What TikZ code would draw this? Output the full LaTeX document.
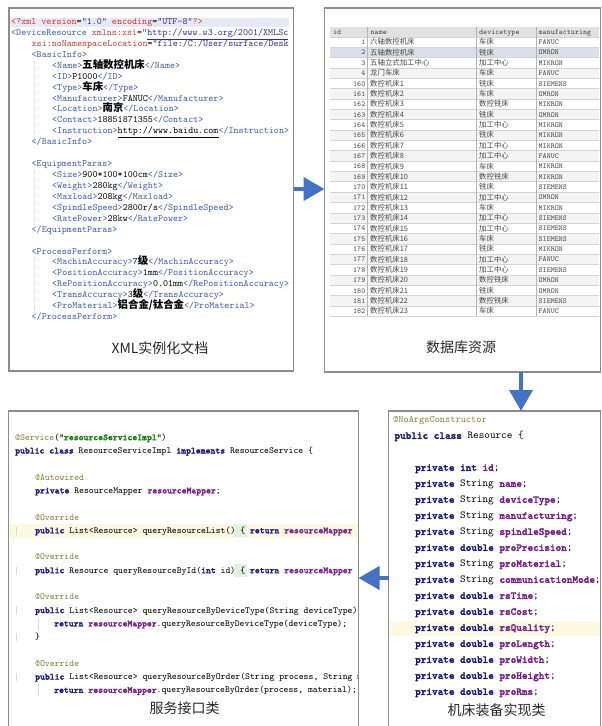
\documentclass[tikz,border=0pt]{standalone}
\usepackage{fontspec}
\usetikzlibrary{arrows.meta}
\newfontfamily\cjk{Noto Sans CJK SC}
\newfontface\ttb{lmmonolt10-bold.otf}[FakeBold=2.2]
\definecolor{tagc}{RGB}{55,85,185}
\definecolor{attc}{RGB}{205,55,45}
\definecolor{valc}{RGB}{45,45,150}
\definecolor{kwc}{RGB}{25,25,130}
\definecolor{fdc}{RGB}{120,30,140}
\definecolor{anc}{RGB}{130,130,50}
\definecolor{stc}{RGB}{20,125,20}
\definecolor{arrc}{RGB}{68,114,196}
\definecolor{framec}{RGB}{140,140,140}
\definecolor{hlx}{RGB}{232,232,246}
\definecolor{hly}{RGB}{253,248,226}
\definecolor{hlg}{RGB}{224,240,226}
\definecolor{dbhead}{RGB}{226,226,226}
\definecolor{dbsel}{RGB}{218,223,236}
\definecolor{dbalt}{RGB}{244,244,244}
\definecolor{dbline}{RGB}{212,212,212}
\definecolor{dbtxt}{RGB}{70,70,70}
\definecolor{captc}{RGB}{40,40,40}
\definecolor{guidec}{RGB}{215,215,215}
\newcommand\xT[1]{\textcolor{tagc}{#1}}
\newcommand\xA[1]{\textcolor{attc}{#1}}
\newcommand\xV[1]{\textcolor{valc}{#1}}
\newcommand\xC[1]{{\fontsize{10.4}{11}\selectfont\cjk\bfseries #1}}
\newcommand\cKw[1]{{\color{kwc}\ttb #1}}
\newcommand\cFd[1]{{\color{fdc}\ttb #1}}
\newcommand\cAn[1]{{\color{anc}#1}}
\newcommand\cSt[1]{{\color{stc}\ttb #1}}
\newcommand\hlbrace{\makebox[0pt][l]{\hspace{-6pt}\textcolor{hlg}{\rule[-3.5pt]{12.5pt}{13pt}}}\{}
\newcommand\xmlline[4]{\node[xmlt] (#1) at (#2,{24.5+10.93*#3}) {#4};}
\newcommand\svcline[4]{\node[svct] (#1) at (#2,{440.2+13.3*#3}) {#4};}
\newcommand\resline[4]{\node[rest] (#1) at (#2,{422.9+16*#3}) {#4};}
\tikzset{
  panel/.style={draw=framec, line width=1.1pt, inner sep=0pt, outer sep=0pt, anchor=north west},
  xmlt/.style={anchor=base west, inner sep=0pt, font=\fontsize{9.6}{11}\ttfamily},
  svct/.style={anchor=base west, inner sep=0pt, font=\fontsize{9.3}{11}\ttfamily},
  rest/.style={anchor=base west, inner sep=0pt, font=\fontsize{10.7}{12}\ttfamily},
  dbt/.style={anchor=base west, inner sep=0pt, font=\fontsize{7.6}{8}\ttfamily, text=dbtxt},
  dbz/.style={anchor=base west, inner sep=0pt, font=\fontsize{7.4}{8}\cjk, text=dbtxt},
  capt/.style={inner sep=0pt, font=\fontsize{14}{16}\cjk, text=captc},
  arr/.style={draw=arrc, line width=4pt, -{Triangle[length=21pt,width=23pt]}},
  guide/.style={draw=guidec, line width=0.6pt, dash pattern=on 1pt off 1pt},
  gutter/.style={draw=guidec, line width=0.8pt}
}
\begin{document}
\begin{tikzpicture}[x=1pt,y=-1pt]
\useasboundingbox (0,0) rectangle (602,726);
% panels
\node[panel, minimum width=284.5pt, minimum height=363pt] (xml) at (9,8) {};
\node[panel, minimum width=276pt, minimum height=364pt] (db) at (324.5,8) {};
\node[panel, minimum width=350pt, minimum height=330pt] (svc) at (8.5,411) {};
\node[panel, minimum width=212pt, minimum height=330pt] (res) at (388.5,411) {};

% ---------- XML panel ----------
\fill[hlx] (10,17.5) rectangle (289,27);
\draw[guide] (34.5,61) -- (34.5,139);
\draw[guide] (34.5,170) -- (34.5,226);
\draw[guide] (34.5,256) -- (34.5,312);
\xmlline{x0}{11}{0}{\xA{<?xml} \xA{version}=\xV{"1.0"} \xA{encoding}=\xV{"UTF-8"}\xA{?>}}
\xmlline{x1}{11}{1}{\xT{<DeviceResource} \xA{xmlns:xsi}=\xV{"\underline{http://www.w3.org/2001/XMLSc}}}
\xmlline{x2}{31.5}{2}{\xA{xsi:noNamespaceLocation}=\xV{"file:/C:/User/surface/Desk}}
\xmlline{x3}{31.5}{3}{\xT{<BasicInfo>}}
\xmlline{x4}{52}{4}{\xT{<Name>}\xC{五轴数控机床}\xT{</Name>}}
\xmlline{x5}{52}{5}{\xT{<ID>}P1000\xT{</ID>}}
\xmlline{x6}{52}{6}{\xT{<Type>}\xC{车床}\xT{</Type>}}
\xmlline{x7}{52}{7}{\xT{<Manufacturer>}FANUC\xT{</Manufacturer>}}
\xmlline{x8}{52}{8}{\xT{<Location>}\xC{南京}\xT{</Location>}}
\xmlline{x9}{52}{9}{\xT{<Contact>}18851871355\xT{</Contact>}}
\xmlline{x10}{52}{10}{\xT{<Instruction>}\underline{http://www.baidu.com}\xT{</Instruction>}}
\xmlline{x11}{31.5}{11}{\xT{</BasicInfo>}}
\xmlline{x13}{31.5}{13}{\xT{<EquipmentParas>}}
\xmlline{x14}{52}{14}{\xT{<Size>}900*100*100cm\xT{</Size>}}
\xmlline{x15}{52}{15}{\xT{<Weight>}280kg\xT{</Weight>}}
\xmlline{x16}{52}{16}{\xT{<Maxload>}208kg\xT{</Maxload>}}
\xmlline{x17}{52}{17}{\xT{<SpindleSpeed>}2800r/s\xT{</SpindleSpeed>}}
\xmlline{x18}{52}{18}{\xT{<RatePower>}28kw\xT{</RatePower>}}
\xmlline{x19}{31.5}{19}{\xT{</EquipmentParas>}}
\xmlline{x21}{31.5}{21}{\xT{<ProcessPerform>}}
\xmlline{x22}{52}{22}{\xT{<MachinAccuracy>}7\xC{级}\xT{</MachinAccuracy>}}
\xmlline{x23}{52}{23}{\xT{<PositionAccuracy>}1mm\xT{</PositionAccuracy>}}
\xmlline{x24}{52}{24}{\xT{<RePositionAccuracy>}0.01mm\xT{</RePositionAccuracy>}}
\xmlline{x25}{52}{25}{\xT{<TransAccuracy>}3\xC{级}\xT{</TransAccuracy>}}
\xmlline{x26}{52}{26}{\xT{<ProMaterial>}\xC{铝合金/钛合金}\xT{</ProMaterial>}}
\xmlline{x27}{31.5}{27}{\xT{</ProcessPerform>}}
\node[capt] (xcap) at (160,348) {XML实例化文档};

% ---------- DB panel ----------
\fill[dbhead] (330,26.5) rectangle (599,36.8);
\foreach \dk in {3,5,...,25} {\fill[dbalt] (330,{36.83+10.35*\dk}) rectangle (599,{47.18+10.35*\dk});}
\fill[dbsel] (330,{36.83+10.35}) rectangle (599,{47.18+10.35});
\foreach \dk in {0,...,27} {\draw[dbline, line width=0.5pt] (330,{36.83+10.35*\dk}) -- (599,{36.83+10.35*\dk});}
\foreach \xx in {367.7,476.3,536} {\draw[draw=dbline!85!black, line width=0.6pt] (\xx,26.5) -- (\xx,316.3);}
\node[dbt] (hid) at (333,34) {id};
\node[dbt] (hnm) at (370.5,34) {name};
\node[dbt] (hty) at (479,34) {devicetype};
\node[dbt] (hmf) at (538.5,34) {manufacturing};
\foreach \dk/\did/\dnm/\dty/\dmf in {
 0/1/六轴数控机床/车床/FANUC, 1/2/五轴数控机床/铣床/OMRON, 2/3/五轴立式加工中心/加工中心/MIKRON,
 3/4/龙门车床/车床/FANUC, 4/160/数控机床1/铣床/SIEMENS, 5/161/数控机床2/车床/OMRON,
 6/162/数控机床3/数控铣床/MIKRON, 7/163/数控机床4/铣床/OMRON, 8/164/数控机床5/加工中心/MIKRON,
 9/165/数控机床6/铣床/MIKRON, 10/166/数控机床7/加工中心/MIKRON, 11/167/数控机床8/加工中心/FANUC,
 12/168/数控机床9/车床/MIKRON, 13/169/数控机床10/数控铣床/MIKRON, 14/170/数控机床11/铣床/SIEMENS,
 15/171/数控机床12/加工中心/OMRON, 16/172/数控机床13/车床/MIKRON, 17/173/数控机床14/加工中心/SIEMENS,
 18/174/数控机床15/加工中心/SIEMENS, 19/175/数控机床16/车床/SIEMENS, 20/176/数控机床17/铣床/MIKRON,
 21/177/数控机床18/加工中心/FANUC, 22/178/数控机床19/加工中心/SIEMENS, 23/179/数控机床20/数控铣床/OMRON,
 24/180/数控机床21/铣床/OMRON, 25/181/数控机床22/数控铣床/SIEMENS, 26/182/数控机床23/车床/FANUC} {
  \node[dbt, anchor=base east] (id\dk) at (365.5,{44.6+10.35*\dk}) {\did};
  \node[dbz] (nm\dk) at (370,{44.8+10.35*\dk}) {\dnm};
  \node[dbz] (ty\dk) at (479,{44.8+10.35*\dk}) {\dty};
  \node[dbt] (mf\dk) at (538.5,{44.6+10.35*\dk}) {\dmf};
}
\node[capt] (dcap) at (461,347) {数据库资源};

% ---------- service panel ----------
\fill[hly] (10,524.1) rectangle (357.5,537.6);
\foreach \ll in {7,10,13,15,18} {\draw[gutter] (16.5,{437.5+13.3*\ll-4}) -- (16.5,{437.5+13.3*\ll+4});}
\draw[gutter] (38,{437.5+13.3*14-6}) -- (38,{437.5+13.3*14+6});
\draw[gutter] (38,{437.5+13.3*19-6}) -- (38,{437.5+13.3*19+6});
\begin{scope}
\clip (9,412) rectangle (357.5,726);
\svcline{s0}{15}{0}{\cAn{@Service}(\cSt{"resourceServiceImpl"})}
\svcline{s1}{15}{1}{\cKw{public class} ResourceServiceImpl \cKw{implements} ResourceService \{}
\svcline{s3}{35}{3}{\cAn{@Autowired}}
\svcline{s4}{35}{4}{\cKw{private} ResourceMapper \cFd{resourceMapper};}
\svcline{s6}{35}{6}{\cAn{@Override}}
\svcline{s7}{35}{7}{\cKw{public} List<Resource> queryResourceList() \hlbrace{} \cKw{return} \cFd{resourceMapper}}
\svcline{s9}{35}{9}{\cAn{@Override}}
\svcline{s10}{35}{10}{\cKw{public} Resource queryResourceById(\cKw{int} id) \hlbrace{} \cKw{return} \cFd{resourceMapper}}
\svcline{s12}{35}{12}{\cAn{@Override}}
\svcline{s13}{35}{13}{\cKw{public} List<Resource> queryResourceByDeviceType(String deviceType) \{}
\svcline{s14}{54}{14}{\cKw{return} \cFd{resourceMapper}.queryResourceByDeviceType(deviceType);}
\svcline{s15}{35}{15}{\}}
\svcline{s17}{35}{17}{\cAn{@Override}}
\svcline{s18}{35}{18}{\cKw{public} List<Resource> queryResourceByOrder(String process, String ma}
\svcline{s19}{54}{19}{\cKw{return} \cFd{resourceMapper}.queryResourceByOrder(process, material);}
\end{scope}
\node[capt] (scap) at (184.5,708) {服务接口类};

% ---------- resource panel ----------
\fill[hly] (390,620.5) rectangle (600,635.5);
\begin{scope}
\clip (389.5,412) rectangle (600,726);
\resline{r0}{393}{0}{{\fontsize{9.9}{11}\selectfont\cAn{@NoArgsConstructor}}}
\resline{r1}{394.3}{1}{\cKw{public class} Resource \{}
\resline{r3}{415}{3}{\cKw{private} \cKw{int} \cFd{id};}
\resline{r4}{415}{4}{\cKw{private} String \cFd{name};}
\resline{r5}{415}{5}{\cKw{private} String \cFd{deviceType};}
\resline{r6}{415}{6}{\cKw{private} String \cFd{manufacturing};}
\resline{r7}{415}{7}{\cKw{private} String \cFd{spindleSpeed};}
\resline{r8}{415}{8}{\cKw{private} \cKw{double} \cFd{proPrecision};}
\resline{r9}{415}{9}{\cKw{private} String \cFd{proMaterial};}
\resline{r10}{415}{10}{\cKw{private} String \cFd{communicationMode};}
\resline{r11}{415}{11}{\cKw{private} \cKw{double} \cFd{rsTime};}
\resline{r12}{415}{12}{\cKw{private} \cKw{double} \cFd{rsCost};}
\resline{r13}{415}{13}{\cKw{private} \cKw{double} \cFd{rsQuality};}
\resline{r14}{415}{14}{\cKw{private} \cKw{double} \cFd{proLength};}
\resline{r15}{415}{15}{\cKw{private} \cKw{double} \cFd{proWidth};}
\resline{r16}{415}{16}{\cKw{private} \cKw{double} \cFd{proHeight};}
\resline{r17}{415}{17}{\cKw{private} \cKw{double} \cFd{proRms};}
\end{scope}
\node[capt] (rcap) at (496.7,710) {机床装备实现类};

% ---------- arrows ----------
\coordinate (ya) at (0,189);
\coordinate (xb) at (521,0);
\coordinate (yc) at (0,578);
\draw[arr] (xml.east |- ya) -- (db.west |- ya);
\draw[arr] (db.south -| xb) -- (res.north -| xb);
\draw[arr] (res.west |- yc) -- (svc.east |- yc);
\end{tikzpicture}
\end{document}
